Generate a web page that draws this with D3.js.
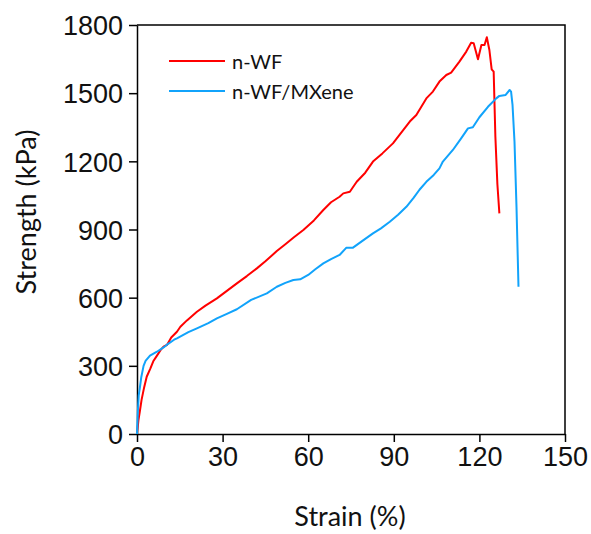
<!DOCTYPE html>
<html>
<head>
<meta charset="utf-8">
<script src="https://cdn.jsdelivr.net/npm/d3@7"></script>
<style>
    body { margin: 0; background: #fff; }
    svg { font-family: Lato, "Open Sans", sans-serif; }
    .axis path, .axis line { stroke: #000; stroke-width: 1.5; }
    .axis text { font-size: 27px; fill: #111; }
</style>
</head>
<body>
<svg id="chart"></svg>
<script>
// n-WF (red)
var wfStrain = [0, 0.5, 1, 1.6, 2.5, 3.4, 4.7, 5.7, 7, 8.3, 9.3, 10.5, 12, 14, 15.2, 17.5, 21, 24, 28, 31.5, 35,
    38.5, 42, 45, 49, 52, 55, 58.3, 62, 65.3, 68, 71, 72.3, 74.6, 77, 80, 82.7, 86, 89.7, 92, 95.6,
    97.9, 101.4, 103.7, 106, 108.4, 110.1, 113, 115.4, 117.1, 118, 119.5, 120.7, 121.8, 122.6, 123.5, 124.3, 125, 125.6, 126.3, 127];
var wfStrength = [0, 60, 100, 150, 205, 252, 289, 320, 345, 370, 384, 392, 425, 450, 472, 500, 538, 565, 597, 630, 663,
    695, 729, 760, 805, 835, 866, 898, 940, 986, 1020, 1044, 1059, 1066, 1110, 1150, 1199, 1235, 1279, 1316, 1375,
    1404, 1477, 1507, 1551, 1580, 1590, 1639, 1683, 1722, 1720, 1649, 1712, 1712, 1746, 1690, 1605, 1595, 1308, 1100, 971];

// n-WF/MXene (blue)
var mxStrain = [0, 0.3, 0.6, 1.05, 1.5, 2.3, 3, 4.55, 7, 9.3, 10.4, 13, 14, 18, 21, 25, 28, 31.5, 35,
    40, 45.5, 49, 52, 54.8, 57.2, 60, 62.5, 65.3, 68, 71, 73.4, 75.7, 79, 82.7, 85.5, 88.6, 91.5, 94.4,
    97, 99, 101.4, 104, 106, 107.2, 110.7, 113.6, 116, 117.7, 120, 123, 125.9, 127, 129.2, 130.6, 131.1,
    131.6, 132.3, 133, 133.7];
var mxStrength = [0, 100, 170, 208, 250, 300, 322, 345, 362, 381, 392, 415, 421, 448, 465, 488, 509, 529, 549,
    590, 619, 648, 665, 678, 681, 700, 725, 751, 770, 788, 820, 820, 850, 883, 905, 934, 965, 1000,
    1040, 1075, 1110, 1140, 1169, 1199, 1250, 1301, 1345, 1350, 1394, 1440, 1477, 1488, 1492, 1514, 1507,
    1450, 1287, 1000, 648];

var xTicks = [0, 30, 60, 90, 120, 150];
var yTicks = [0, 300, 600, 900, 1200, 1500, 1800];
var seriesNames = ["n-WF", "n-WF/MXene"];
var seriesColors = ["#ff0000", "#11a3fb"];

const width = 591, height = 534;
const margin = {top: 25, right: 26, bottom: 100, left: 137};

const svg = d3.select("#chart").attr("width", width).attr("height", height);

var x = d3.scaleLinear().domain([0, 150]).range([margin.left, width - margin.right]);
var y = d3.scaleLinear().domain([0, 1800]).range([height - margin.bottom, margin.top]);

// box (top and right)
svg.append("path")
    .attr("d", "M" + x(0) + "," + y(1800) + "H" + x(150) + "V" + y(0))
    .attr("fill", "none")
    .attr("stroke", "#000")
    .attr("stroke-width", 1.5);

svg.append("g")
    .attr("class", "axis")
    .attr("transform", "translate(0," + y(0) + ")")
    .call(d3.axisBottom(x).tickValues(xTicks).tickSize(8).tickSizeOuter(0).tickPadding(5).tickFormat(d3.format("d")));

svg.append("g")
    .attr("class", "axis")
    .attr("transform", "translate(" + x(0) + ",0)")
    .call(d3.axisLeft(y).tickValues(yTicks).tickSize(8).tickSizeOuter(0).tickPadding(6).tickFormat(d3.format("d")))
    .selectAll("text").attr("dy", "0.36em");

// curves
var series = [
    {strain: wfStrain, strength: wfStrength},
    {strain: mxStrain, strength: mxStrength}
];
var line = d3.line()
    .x(function(d) { return x(d[0]); })
    .y(function(d) { return y(d[1]); });

series.forEach(function(s, i) {
    svg.append("path")
        .datum(d3.zip(s.strain, s.strength))
        .attr("fill", "none")
        .attr("stroke", seriesColors[i])
        .attr("stroke-width", 2)
        .attr("stroke-linejoin", "round")
        .attr("d", line);
});

// legend
var legend = svg.append("g").attr("transform", "translate(169,61)");
seriesNames.forEach(function(name, i) {
    legend.append("line")
        .attr("x1", 0).attr("x2", 56)
        .attr("y1", i * 30).attr("y2", i * 30)
        .attr("stroke", seriesColors[i])
        .attr("stroke-width", 2);
    legend.append("text")
        .attr("x", 63).attr("y", i * 30 + 7.5)
        .style("font-size", "20px")
        .attr("fill", "#111")
        .text(name);
});

// axis titles
svg.append("text")
    .attr("x", 350).attr("y", 526)
    .attr("text-anchor", "middle")
    .style("font-size", "27px")
    .attr("fill", "#111")
    .text("Strain (%)");

svg.append("text")
    .attr("transform", "translate(36,212) rotate(-90)")
    .attr("text-anchor", "middle")
    .style("font-size", "27px")
    .attr("fill", "#111")
    .text("Strength (kPa)");
</script>
</body>
</html>
